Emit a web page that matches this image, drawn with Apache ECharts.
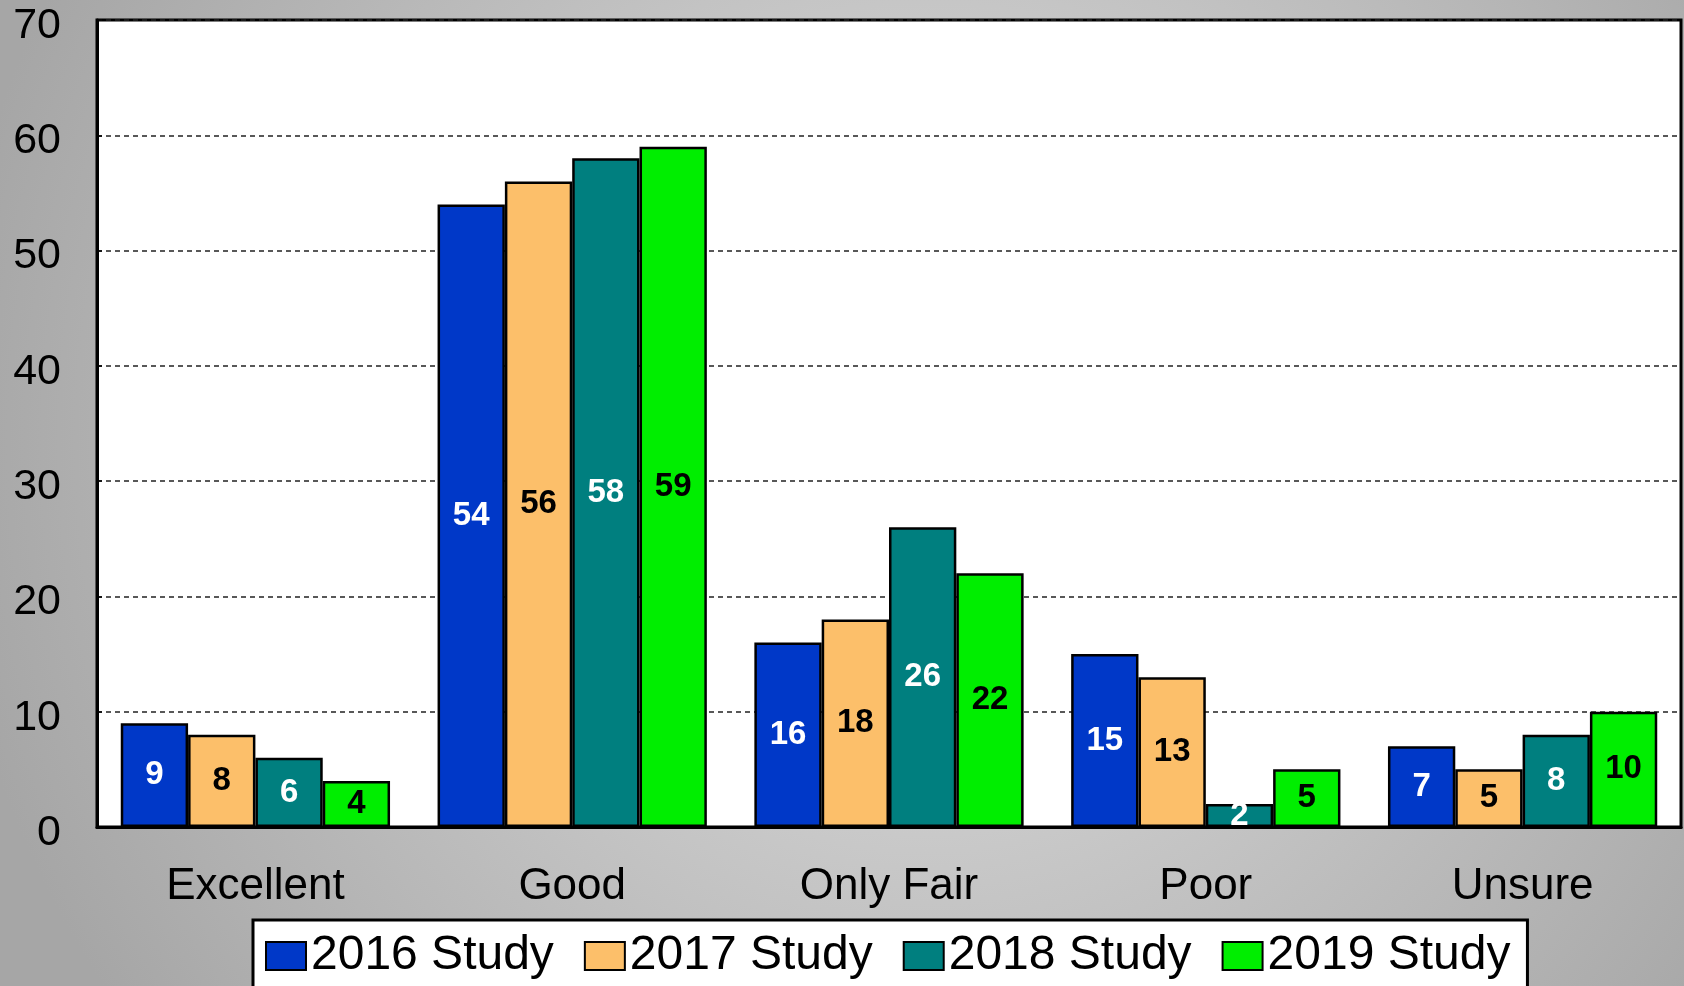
<!DOCTYPE html>
<html>
<head>
<meta charset="utf-8">
<script src="https://cdn.jsdelivr.net/npm/echarts@6/dist/echarts.min.js"></script>
<style>
  html, body { margin: 0; padding: 0; }
  #chart { width: 1684px; height: 986px; }
</style>
</head>
<body>
<div id="chart"></div>
<script>
var categories = ['Excellent', 'Good', 'Only Fair', 'Poor', 'Unsure'];
var study2016 = [9, 54, 16, 15, 7];
var study2017 = [8, 56, 18, 13, 5];
var study2018 = [6, 58, 26, 2, 8];
var study2019 = [4, 59, 22, 5, 10];
var yTicks = { min: 0, max: 70, interval: 10 };

var colors = ['#0038c8', '#fcbf6a', '#007f7f', '#00ee00'];
var labelColors = ['#fff', '#000', '#fff', '#000'];
var font = '"Liberation Sans", Arial, sans-serif';

function makeSeries(name, data, i) {
    return {
        name: name,
        type: 'bar',
        data: data,
        barGap: '0%',
        barCategoryGap: '15%',
        itemStyle: {
            color: colors[i],
            borderColor: '#000',
            borderWidth: 2.5
        },
        label: {
            show: true,
            position: 'inside',
            color: labelColors[i],
            fontFamily: font,
            fontWeight: 'bold',
            fontSize: 33
        }
    };
}

var chart = echarts.init(document.getElementById('chart'));
chart.setOption({
    animation: false,
    backgroundColor: {
        type: 'radial', x: 0.55, y: 0.45, r: 1,
        colorStops: [
            { offset: 0, color: '#e0e0e0' },
            { offset: 1, color: '#a6a6a6' }
        ]
    },
    color: colors,
    grid: {
        left: 97, right: 3, top: 20, bottom: 159,
        show: true,
        backgroundColor: '#fff',
        borderColor: '#000',
        borderWidth: 3
    },
    legend: {
        top: 920,
        left: 253,
        backgroundColor: '#fff',
        borderColor: '#000',
        borderWidth: 3,
        borderRadius: 0,
        padding: [12, 17, 30, 12],
        itemWidth: 40,
        itemHeight: 28,
        itemGap: 30,
        icon: 'rect',
        textStyle: {
            fontFamily: font,
            fontSize: 48,
            color: '#000'
        },
        data: ['2016 Study', '2017 Study', '2018 Study', '2019 Study']
    },
    xAxis: {
        type: 'category',
        data: categories,
        axisLine: { lineStyle: { color: '#000', width: 3 } },
        axisTick: { show: false },
        axisLabel: {
            margin: 38,
            fontFamily: font,
            fontSize: 44,
            color: '#000'
        }
    },
    yAxis: {
        type: 'value',
        min: yTicks.min,
        max: yTicks.max,
        interval: yTicks.interval,
        axisLine: { show: true, lineStyle: { color: '#000', width: 3 } },
        axisTick: { show: true, inside: true, length: 5, lineStyle: { color: '#000', width: 1.5 } },
        axisLabel: {
            margin: 36,
            verticalAlign: 'top',
            lineHeight: 12,
            fontFamily: font,
            fontSize: 43,
            color: '#000'
        },
        splitLine: {
            show: true,
            lineStyle: { color: '#222', width: 1.5, type: [5, 4] }
        }
    },
    series: [
        makeSeries('2016 Study', study2016, 0),
        makeSeries('2017 Study', study2017, 1),
        makeSeries('2018 Study', study2018, 2),
        makeSeries('2019 Study', study2019, 3)
    ]
});
</script>
</body>
</html>
